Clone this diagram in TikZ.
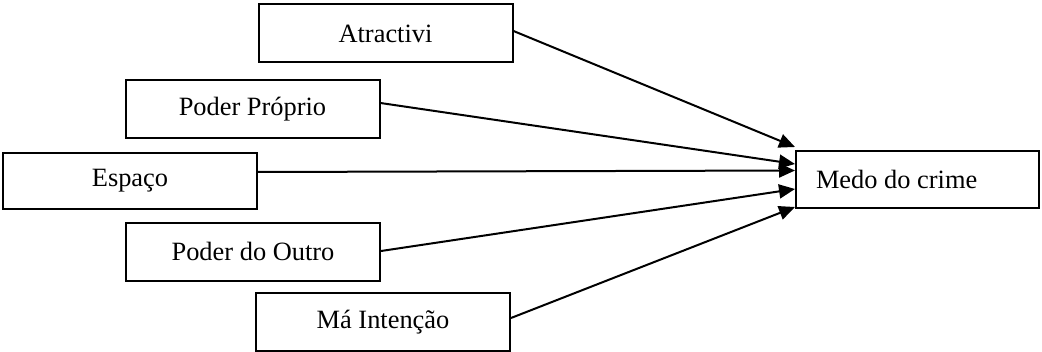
\documentclass[tikz,border=0pt]{standalone}
\usepackage{fontspec}
\setmainfont{Liberation Serif}
\usetikzlibrary{arrows.meta}
\tikzset{
	factor/.style={draw, line width=1pt, minimum width=127pt, minimum height=29pt, inner sep=0pt, font=\fontsize{13.2}{16}\selectfont},
	link/.style={line width=1pt, -{Triangle[length=8pt,width=7pt]}}
}
\begin{document}
\begin{tikzpicture}[x=0.5pt, y=-0.5pt]
		%%%%% START %%%%%
		\useasboundingbox (0, 0) rectangle (1042, 352);
		
		\node[factor] (atr) at (385.5, 33.5) {Atractivi};
		\node[factor] (pp) at (252.5, 109.5) {Poder Próprio};
		\node[factor, minimum height=28pt] (esp) at (130, 181) {Espaço};
		\node[factor] (pdo) at (253, 251.5) {Poder do Outro};
		\node[factor] (ma) at (383, 322) {Má Intenção};
		
		\node[factor, minimum width=0pt, minimum height=28.5pt, text width=101.5pt, inner xsep=10pt, align=flush left] (medo) at (917.5, 179.5) {Medo do crime};
		
		\draw[link] ([yshift=1.25pt]atr.east) -- ([yshift=16.25pt]medo.west);
		\draw[link] ([yshift=3.25pt]pp.east) -- ([yshift=7.75pt]medo.west);
		\draw[link] ([yshift=4.5pt]esp.east) -- ([yshift=4.5pt]medo.west);
		\draw[link] ([yshift=0.25pt]pdo.east) -- ([yshift=-4.75pt]medo.west);
		\draw[link] ([yshift=2pt]ma.east) -- ([yshift=-13.75pt]medo.west);
		
		%%%%% END %%%%%
\end{tikzpicture}
\end{document}
